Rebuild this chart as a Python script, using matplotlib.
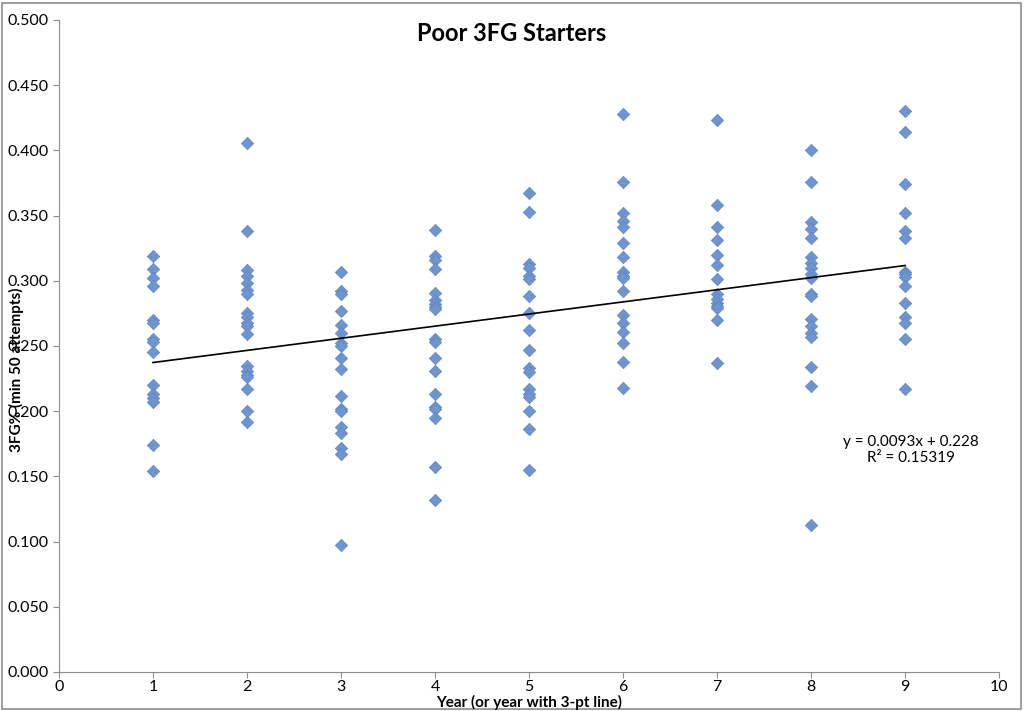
import matplotlib.pyplot as plt
import matplotlib.patches as patches
import numpy as np

plt.rcParams['font.family'] = ['Lato', 'DejaVu Sans']

# 3FG% por temporada
y1 = [0.319, 0.309, 0.302, 0.296, 0.270, 0.268, 0.255, 0.253, 0.245, 0.220,
      0.213, 0.210, 0.207, 0.174, 0.154]
y2 = [0.406, 0.338, 0.308, 0.304, 0.298, 0.293, 0.290, 0.275, 0.272, 0.268,
      0.265, 0.259, 0.235, 0.231, 0.228, 0.226, 0.217, 0.200, 0.192]
y3 = [0.307, 0.292, 0.290, 0.277, 0.266, 0.260, 0.252, 0.250, 0.241, 0.232,
      0.212, 0.202, 0.200, 0.188, 0.183, 0.172, 0.167, 0.097]
y4 = [0.339, 0.319, 0.316, 0.309, 0.291, 0.285, 0.282, 0.280, 0.278, 0.255,
      0.253, 0.241, 0.231, 0.213, 0.203, 0.202, 0.195, 0.157, 0.132]
y5 = [0.367, 0.353, 0.313, 0.310, 0.304, 0.301, 0.288, 0.275, 0.262, 0.247,
      0.233, 0.230, 0.217, 0.213, 0.211, 0.200, 0.186, 0.155]
y6 = [0.428, 0.376, 0.352, 0.346, 0.341, 0.329, 0.318, 0.307, 0.304, 0.302,
      0.292, 0.274, 0.268, 0.261, 0.252, 0.238, 0.218]
y7 = [0.423, 0.358, 0.341, 0.331, 0.320, 0.312, 0.301, 0.290, 0.286, 0.283,
      0.281, 0.279, 0.270, 0.237]
y8 = [0.400, 0.376, 0.345, 0.340, 0.333, 0.318, 0.314, 0.310, 0.305, 0.302,
      0.290, 0.288, 0.271, 0.265, 0.260, 0.257, 0.234, 0.219, 0.113]
y9 = [0.430, 0.414, 0.374, 0.352, 0.338, 0.333, 0.307, 0.305, 0.303, 0.296,
      0.283, 0.272, 0.268, 0.255, 0.217]
years = [1, 2, 3, 4, 5, 6, 7, 8, 9]

# linea de tendencia (de la etiqueta)
slope = 0.0093
intercept = 0.228
r2 = 0.15319

cols = [y1, y2, y3, y4, y5, y6, y7, y8, y9]
xs = np.concatenate([[yr] * len(c) for yr, c in zip(years, cols)])
ys = np.concatenate(cols)

fig = plt.figure(figsize=(10.24, 7.11), dpi=100)
ax = fig.add_axes([0.0576, 0.0549, 0.9180, 0.9170])

ax.scatter(xs, ys, marker='D', s=40, color='#6f95cf', edgecolors='#5f86c4',
           linewidths=0.5, zorder=3)

tx = np.array([years[0], years[-1]])
ax.plot(tx, slope * tx + intercept, color='black', lw=1.2, zorder=4)

ax.set_xlim(0, 10)
ax.set_ylim(0, 0.5)
ax.set_xticks(range(0, 11))
ax.set_yticks(np.arange(0, 0.501, 0.05))
ax.set_yticklabels(['%.3f' % v for v in np.arange(0, 0.501, 0.05)])
for s in ['top', 'right']:
    ax.spines[s].set_visible(False)
for s in ['left', 'bottom']:
    ax.spines[s].set_color('#8c8c8c')
ax.tick_params(direction='out', length=4, color='#8c8c8c', labelsize=11.5)
ax.tick_params(axis='x', pad=2)

fig.text(0.5, 0.953, 'Poor 3FG Starters', fontsize=17, fontweight='bold',
         ha='center', va='center')
fig.text(0.517, 0.012, 'Year (or year with 3-pt line)', fontsize=11, fontweight='bold',
         ha='center', va='center')
fig.text(0.016, 0.48, '3FG% (min 50 attempts)', rotation=90, fontsize=11,
         fontweight='bold', ha='center', va='center')

ax.text(9.06, 0.170, 'y = 0.0093x + 0.228\nR² = %.5f' % r2, fontsize=11,
        ha='center', va='center', linespacing=1.2)

fig.patches.append(patches.Rectangle((0.002, 0.003), 0.995, 0.993, transform=fig.transFigure,
                                     fill=False, edgecolor='#8c8c8c', lw=1.2))

plt.savefig('out.png', dpi=100)
